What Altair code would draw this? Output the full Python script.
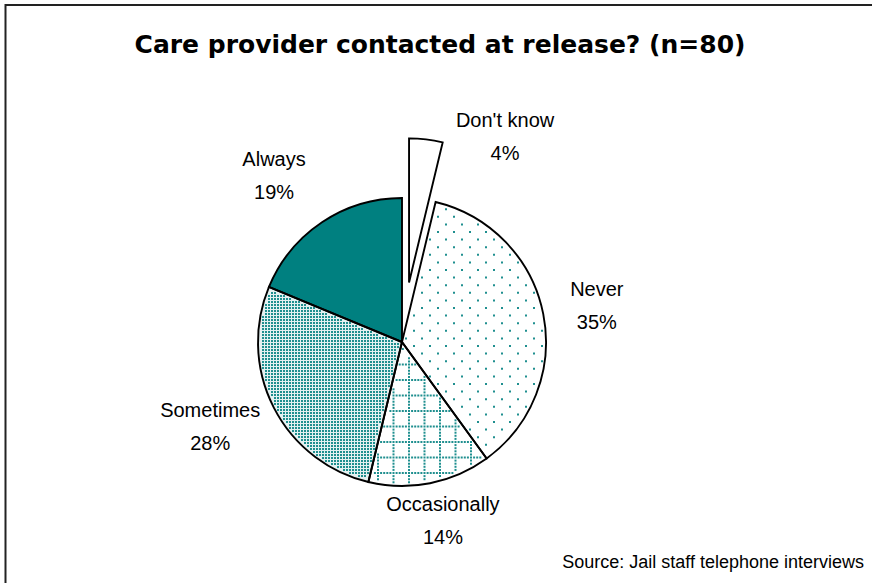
import altair as alt
import pandas as pd

# ---------------- data ----------------
categories = ["Don't know", "Never", "Occasionally", "Sometimes", "Always"]
counts = [3, 29, 11, 22, 15]          # slice sizes as drawn (n=80)
pct_labels = ["4%", "35%", "14%", "28%", "19%"]
title_text = "Care provider contacted at release? (n=80)"
source_text = "Source: Jail staff telephone interviews"

# ---------------- styles / layout ----------------
CX, CY, R = 402, 342, 144
TEAL = "#008080"
DOT = "#1f8f8f"
FONT = "Liberation Sans"
fills = {"Don't know": "white", "Never": "white", "Occasionally": "white",
         "Sometimes": "#e4f1f1", "Always": TEAL}
explode = {"Don't know": 60}
# pattern: (step x, step y, row stagger, grid-line every n, dot size)
patterns = {
    "Never": (16, 7.6, 8, 0, 4),
    "Occasionally": (3.1, 3.1, 0, 5, 4),
    "Sometimes": (3, 3, 0, 0, 4),
}
label_r = {"Don't know": 229, "Never": 198, "Occasionally": 184, "Sometimes": 210, "Always": 209}
label_nudge = {"Don't know": 20, "Never": 1.0, "Occasionally": -1.6, "Sometimes": 3.0, "Always": -4.0}
LINE_H = 33

rows = []
for i, (c, v, p) in enumerate(zip(categories, counts, pct_labels)):
    sx, sy, stag, every, dsize = patterns.get(c, (0, 0, 0, 0, 0))
    rows.append(dict(cat=c, value=v, pct=p, order=i, fill=fills[c], explode=explode.get(c, 0),
                     sx=sx, sy=sy, stag=stag, every=every, dsize=dsize,
                     lr=label_r[c], ln=label_nudge[c]))
df = pd.DataFrame(rows)

base = (
    alt.Chart(df)
    .transform_joinaggregate(total="sum(value)")
    .transform_window(cum="sum(value)", sort=[alt.SortField("order")], frame=[None, 0])
    .transform_calculate(a0="2*PI*(datum.cum-datum.value)/datum.total")
    .transform_calculate(a1="2*PI*datum.cum/datum.total")
    .transform_calculate(mid="(datum.a0+datum.a1)/2")
    .transform_calculate(cx=f"{CX}+datum.explode*sin(datum.mid)")
    .transform_calculate(cy=f"{CY}-datum.explode*cos(datum.mid)")
)

enc_pos = dict(
    theta=alt.Theta("a0:Q", scale=None, stack=False),
    theta2="a1:Q",
    x=alt.X("cx:Q", scale=None, axis=None),
    y=alt.Y("cy:Q", scale=None, axis=None),
)

arcs = base.mark_arc(outerRadius=R, strokeWidth=0).encode(
    fill=alt.Fill("fill:N", scale=None), **enc_pos
)

span = 2 * R + 8
dots = (
    base.transform_filter("datum.sx > 0")
    .transform_calculate(nx=f"ceil({span}/datum.sx)+1")
    .transform_calculate(ny=f"ceil({span}/datum.sy)+1")
    .transform_calculate(gx="sequence(0, datum.nx)")
    .transform_flatten(["gx"])
    .transform_calculate(gy="sequence(0, datum.ny)")
    .transform_flatten(["gy"])
    .transform_filter("datum.every == 0 || datum.gx % datum.every == 0 || datum.gy % datum.every == 0")
    .transform_calculate(px=f"round(datum.cx) - {R + 4} + datum.gx*datum.sx + (datum.gy % 2)*datum.stag")
    .transform_calculate(py=f"round(datum.cy) - {R + 4} + datum.gy*datum.sy")
    .transform_calculate(dx="datum.px - datum.cx")
    .transform_calculate(dy="datum.py - datum.cy")
    .transform_calculate(rr="sqrt(datum.dx*datum.dx + datum.dy*datum.dy)")
    .transform_calculate(ang="(atan2(datum.dx, -datum.dy) + 2*PI) % (2*PI)")
    .transform_filter(
        f"datum.rr < {R - 2.5} && datum.ang > datum.a0 && datum.ang < datum.a1 && "
        "datum.rr*sin(datum.ang-datum.a0) > 2.2 && datum.rr*sin(datum.a1-datum.ang) > 2.2"
    )
    .mark_square(color=DOT, opacity=1, strokeWidth=0)
    .encode(
        x=alt.X("px:Q", scale=None, axis=None),
        y=alt.Y("py:Q", scale=None, axis=None),
        size=alt.Size("dsize:Q", scale=None, legend=None),
    )
)

outline = base.mark_arc(outerRadius=R, fillOpacity=0, stroke="black", strokeWidth=1.9,
                        strokeJoin="miter").encode(**enc_pos)

labels = (
    base.transform_calculate(la="datum.mid + datum.ln*PI/180")
    .transform_calculate(lx=f"{CX} + datum.lr*sin(datum.la)")
    .transform_calculate(ly=f"{CY} - datum.lr*cos(datum.la) - {LINE_H / 2}")
    .transform_calculate(label="datum.cat + '\\n' + datum.pct")
    .mark_text(font=FONT, fontSize=20, lineHeight=LINE_H, lineBreak="\n",
               align="center", baseline="middle", color="black")
    .encode(
        x=alt.X("lx:Q", scale=None, axis=None),
        y=alt.Y("ly:Q", scale=None, axis=None),
        text="label:N",
    )
)

one = pd.DataFrame({"t": [title_text], "s": [source_text]})
title = alt.Chart(one).mark_text(font="DejaVu Sans", fontSize=25, fontWeight="bold",
                                 align="center", baseline="alphabetic").encode(
    x=alt.value(440), y=alt.value(53), text="t:N")
source = alt.Chart(one).mark_text(font=FONT, fontSize=18, align="right",
                                  baseline="middle").encode(
    x=alt.value(864), y=alt.value(563), text="s:N")
frame = alt.Chart(one).mark_rect(fillOpacity=0, stroke="#222222", strokeWidth=2).encode(
    x=alt.value(5.5), x2=alt.value(900), y=alt.value(5), y2=alt.value(600))

chart = (
    alt.layer(frame, arcs, dots, outline, labels, title, source)
    .properties(width=872, height=583, autosize="none", padding=0, background="white")
    .configure_view(stroke=None)
)

chart.save("out.html", embed_options={"renderer": "svg", "actions": False})
